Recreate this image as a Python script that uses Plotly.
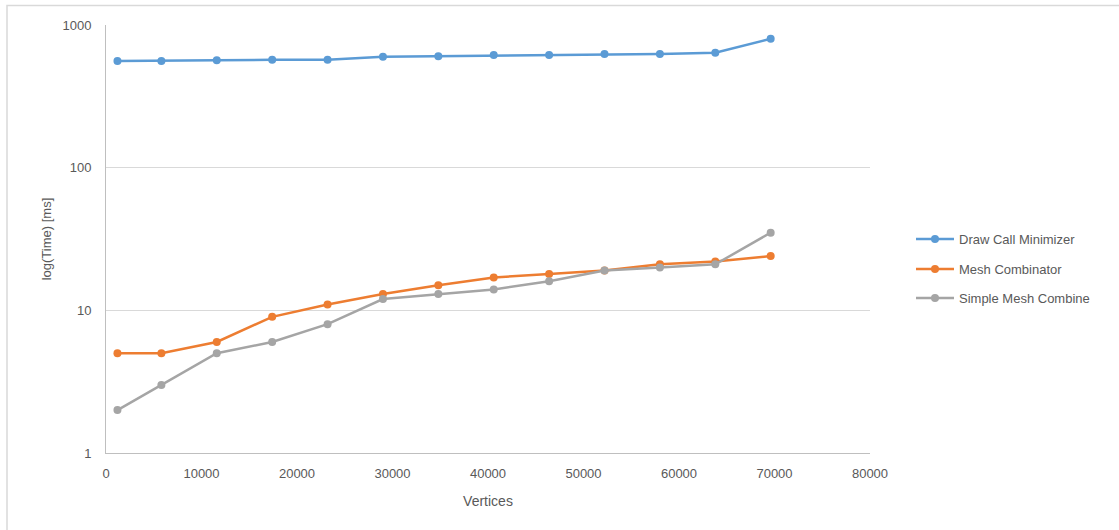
import plotly.graph_objects as go

vertices = [1200, 5800, 11600, 17400, 23200, 29000, 34800, 40600, 46400, 52200, 58000, 63800, 69600]
draw_call_minimizer = [560, 560, 565, 570, 570, 600, 605, 615, 615, 625, 625, 640, 800]
mesh_combinator = [5, 5, 6, 9, 11, 13, 15, 17, 18, 19, 21, 22, 24]
simple_mesh_combine = [2, 3, 5, 6, 8, 12, 13, 14, 16, 19, 20, 21, 35]
series_names = ["Draw Call Minimizer", "Mesh Combinator", "Simple Mesh Combine"]
colors = ["#5b9bd5", "#ed7d31", "#a5a5a5"]
y_ticks = [1, 10, 100, 1000]
x_ticks = [0, 10000, 20000, 30000, 40000, 50000, 60000, 70000, 80000]

FONT = "Liberation Sans"
TXT = "#595959"

fig = go.Figure()
legends = ["legend", "legend2", "legend3"]
for name, vals, col, lg in zip(series_names,
                               [draw_call_minimizer, mesh_combinator, simple_mesh_combine],
                               colors, legends):
    fig.add_trace(go.Scatter(
        x=vertices, y=vals, name=name, mode="lines+markers",
        line=dict(color=col, width=2.5),
        marker=dict(color=col, size=8),
        legend=lg,
    ))

W, H = 1119, 530
L, T, R, B = 106, 25, 870, 453

def py(px):
    return (B - px) / (B - T)

def pxp(px):
    return (px - L) / (R - L)

leg_common = dict(font=dict(family=FONT, size=13, color=TXT), bgcolor="rgba(0,0,0,0)",
                  xanchor="left", yanchor="middle", x=pxp(911), itemwidth=38)

fig.update_layout(
    width=W, height=H,
    margin=dict(l=L, r=W - R, t=T, b=H - B),
    paper_bgcolor="white", plot_bgcolor="white",
    font=dict(family=FONT, size=13, color=TXT),
    showlegend=True,
    legend=dict(y=py(239), **leg_common),
    legend2=dict(y=py(269), **leg_common),
    legend3=dict(y=py(298), **leg_common),
    xaxis=dict(
        range=[0, 80000], tickvals=x_ticks, ticktext=[str(v) for v in x_ticks],
        showgrid=False, zeroline=False,
        showline=True, linecolor="#bfbfbf", linewidth=1,
        ticks="", ticklabelstandoff=8,
        tickfont=dict(family=FONT, size=13, color=TXT),
        title=dict(text="Vertices", font=dict(family=FONT, size=14, color=TXT), standoff=16),
    ),
    yaxis=dict(
        type="log", range=[0, 3], tickvals=y_ticks, ticktext=[str(v) for v in y_ticks],
        showgrid=True, gridcolor="#d9d9d9", gridwidth=1, zeroline=False,
        showline=True, linecolor="#bfbfbf", linewidth=1,
        ticks="", ticklabelstandoff=11,
        tickfont=dict(family=FONT, size=13, color=TXT),
        title=dict(text="log(Time) [ms]", font=dict(family=FONT, size=13, color=TXT), standoff=7),
    ),
    shapes=[dict(type="rect", xref="paper", yref="paper",
                 x0=pxp(7), x1=pxp(1135), y0=py(545), y1=py(5.5),
                 line=dict(color="#d9d9d9", width=1.5), fillcolor="rgba(0,0,0,0)", layer="below")],
)

fig.write_html("out.html", config={"displayModeBar": False})

with open("out.html", "r", encoding="utf-8") as f:
    html = f.read()
html = html.replace("<body>", '<body style="margin:0;padding:0">', 1)
with open("out.html", "w", encoding="utf-8") as f:
    f.write(html)
